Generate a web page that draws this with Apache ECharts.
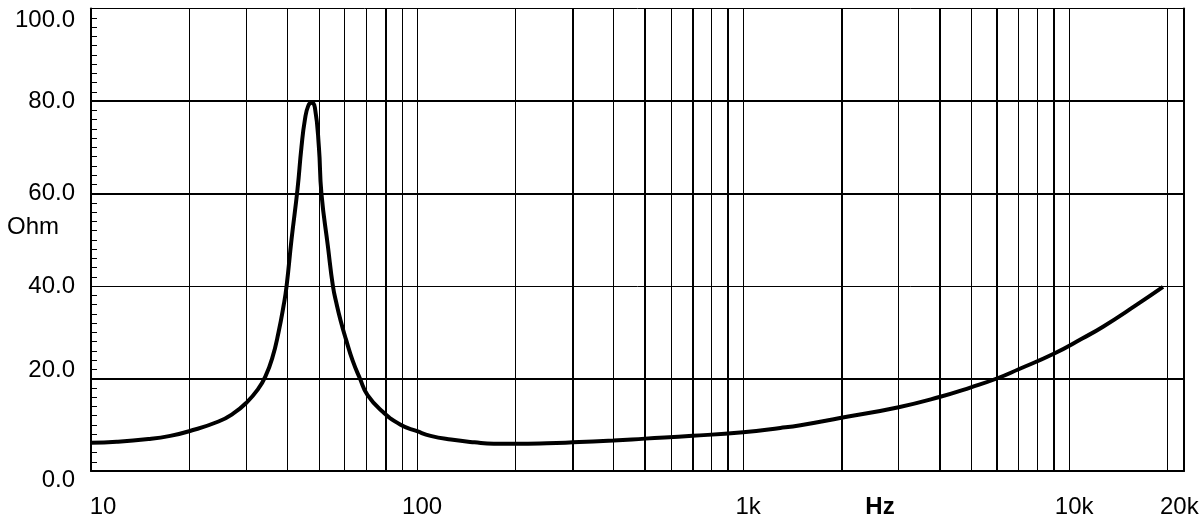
<!DOCTYPE html>
<html>
<head>
<meta charset="utf-8">
<script src="https://cdn.jsdelivr.net/npm/echarts@6/dist/echarts.min.js"></script>
<style>
html,body{margin:0;padding:0;background:#fff;}
#chart{width:1200px;height:531px;}
</style>
</head>
<body>
<div id="chart"></div>
<script>
// ---- data ----
const freqHz = [10, 12, 15, 17.5, 20, 24.6, 27.4, 30, 32.6, 34.3, 36, 37.6, 39, 39.8, 41.2, 43, 44.2, 45.3, 46.4, 47.5, 48.6, 50, 50.9, 53.3, 55.2, 56.7, 58.3, 60.5, 63.5, 66.8, 70.5, 78.5, 89, 100, 110, 127, 150, 172, 200, 250, 300, 400, 500, 700, 1000, 1300, 1500, 2000, 3000, 4000, 5000, 6000, 7000, 9000, 11000, 12700, 16000, 19400];
const impedanceOhm = [6.1, 6.3, 6.9, 7.6, 8.6, 10.7, 12.5, 14.8, 17.8, 20.5, 24.5, 30.0, 35.9, 40, 50, 61, 70, 76, 79.0, 79.6, 78.6, 70, 60, 48.5, 40, 36, 32.5, 28.5, 23.8, 20.0, 16.4, 12.8, 10.0, 8.6, 7.6, 6.8, 6.2, 5.9, 5.9, 6.0, 6.2, 6.6, 7.0, 7.6, 8.4, 9.3, 9.9, 11.5, 13.8, 16.0, 18.1, 20.0, 22.0, 25.4, 28.7, 31.2, 35.8, 39.8];
const xTickValues = [10, 100, 1000, 10000, 20000];
const gridFreqs = [20, 30, 40, 50, 60, 70, 80, 90, 100, 200, 300, 400, 500, 600, 700, 800, 900, 1000, 2000, 3000, 4000, 5000, 6000, 7000, 8000, 9000, 10000, 20000];
const gridOhms = [20, 40, 60, 80];

// ---- styling ----
const heavyFreqs = [80, 300, 500, 700, 900, 2000, 4000, 6000, 9000];
const heavyOhms = [20, 60, 80];
const FONT = "'Liberation Sans', Arial, sans-serif";
const FS = 24;

const fmtHz = v => v >= 1000 ? (v / 1000) + 'k' : String(v);

const chart = echarts.init(document.getElementById('chart'), null, {renderer: 'canvas'});
chart.setOption({
  animation: false,
  backgroundColor: '#fff',
  grid: {left: 91, right: 16, top: 8.5, bottom: 60, containLabel: false, outerBoundsMode: 'none',
         show: true, borderColor: '#000', borderWidth: 1},
  xAxis: {
    type: 'log', logBase: 10, min: 10, max: 22500,
    axisLine: {show: true, lineStyle: {color: '#000', width: 2}},
    axisTick: {show: false},
    splitLine: {show: false},
    minorSplitLine: {show: false},
    axisLabel: {
      customValues: xTickValues,
      margin: 24,
      color: '#000', fontFamily: FONT, fontSize: FS,
      formatter: v => {
        const s = fmtHz(v);
        return (v === 10 || v === 20000) ? '{b|' + s + '}' : '{a|' + s + '}';
      },
      rich: {
        a: {fontFamily: FONT, fontSize: FS, color: '#000', padding: [0, 0, 0, 10]},
        b: {fontFamily: FONT, fontSize: FS, color: '#000', padding: [0, 0, 0, 24]}
      }
    },
    name: 'Hz', nameLocation: 'middle', nameGap: 24, nameMoveOverlap: false,
    nameTextStyle: {color: '#000', fontFamily: FONT, fontSize: FS, fontWeight: 'bold', padding: [0, 0, 0, 485], verticalAlign: 'top'}
  },
  yAxis: [{
    type: 'value', min: 0, max: 100, interval: 20,
    axisLine: {show: true, lineStyle: {color: '#000', width: 2}},
    axisTick: {show: true, inside: true, length: 6, lineStyle: {color: '#000', width: 1}},
    minorTick: {show: true, splitNumber: 10, length: 6, lineStyle: {color: '#000', width: 1}},
    splitLine: {show: false},
    axisLabel: {
      margin: 16, color: '#000', fontFamily: FONT, fontSize: FS,
      formatter: v => {
        const s = v.toFixed(1);
        if (v === 100) return '{dn|' + s + '}';
        if (v === 0) return '{dn2|' + s + '}';
        if (v === 20) return '{up|' + s + '}';
        return '{n|' + s + '}';
      },
      rich: {
        n: {fontFamily: FONT, fontSize: FS, color: '#000'},
        dn: {fontFamily: FONT, fontSize: FS, color: '#000', padding: [24, 0, 0, 0]},
        dn2: {fontFamily: FONT, fontSize: FS, color: '#000', padding: [18, 0, 0, 0]},
        up: {fontFamily: FONT, fontSize: FS, color: '#000', padding: [0, 0, 16, 0]}
      }
    },
    name: 'Ohm', nameLocation: 'middle', nameRotate: 0, nameGap: 32, nameMoveOverlap: false,
    nameTextStyle: {color: '#000', fontFamily: FONT, fontSize: FS, align: 'right', verticalAlign: 'bottom'}
  }, {
    type: 'value', min: 0, max: 100, position: 'right',
    axisLine: {show: true, lineStyle: {color: '#000', width: 2}},
    axisTick: {show: false}, axisLabel: {show: false}, splitLine: {show: false}
  }],
  series: [{
    type: 'line', data: [], z: 1, silent: true,
    markLine: {
      silent: true, symbol: 'none', animation: false,
      label: {show: false},
      data: gridFreqs.map(f => ({xAxis: f, lineStyle: {color: '#000', type: 'solid', width: heavyFreqs.includes(f) ? 2 : 1}}))
        .concat(gridOhms.map(o => ({yAxis: o, lineStyle: {color: '#000', type: 'solid', width: heavyOhms.includes(o) ? 2 : 1}})))
    }
  }, {
    type: 'line', z: 5,
    data: freqHz.map((f, i) => [f, impedanceOhm[i]]),
    showSymbol: false, symbol: 'none', smooth: 0.5,
    lineStyle: {color: '#000', width: 4}
  }]
});
</script>
</body>
</html>
